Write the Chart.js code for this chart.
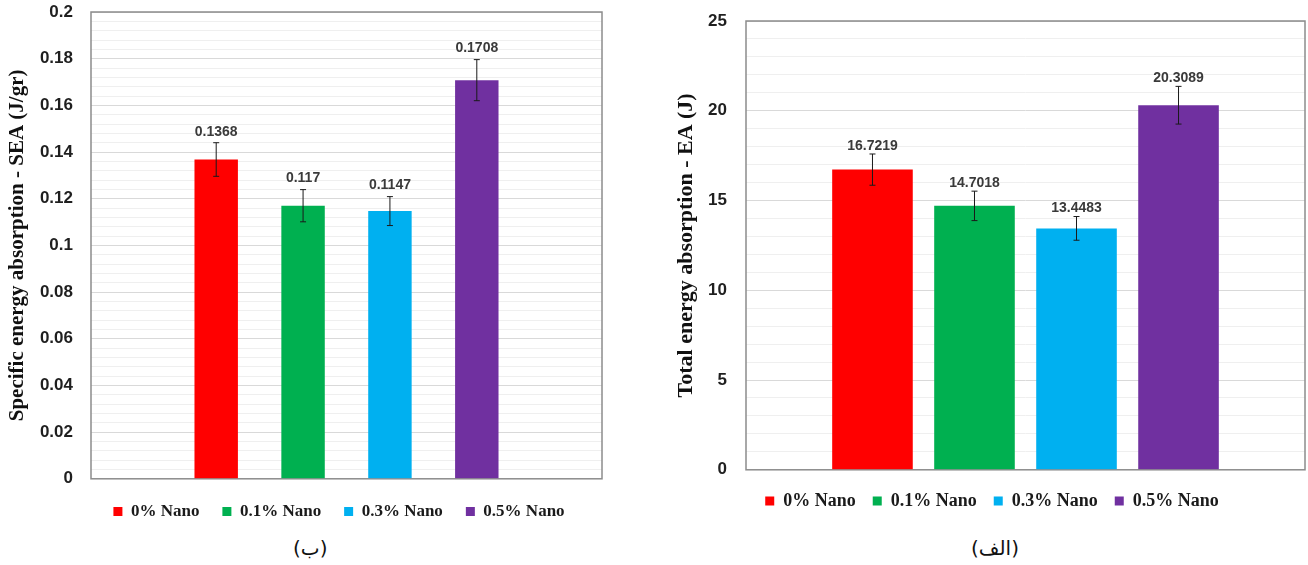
<!DOCTYPE html>
<html>
<head>
<meta charset="utf-8">
<script src="https://cdn.jsdelivr.net/npm/chart.js@4.4.1/dist/chart.umd.min.js"></script>
<style>
  html, body { margin: 0; padding: 0; background: #ffffff; overflow: hidden; width: 1308px; height: 565px; }
  .box { position: absolute; top: 0; }
  #leftBox { left: 0; width: 678px; height: 530px; }
  #rightBox { left: 660px; width: 664px; height: 520px; }
  .cap { position: absolute; top: 536px; font-family: "DejaVu Sans", "Noto Sans", sans-serif; font-size: 20px; color: #111; }
</style>
</head>
<body>
<div class="box" id="leftBox"><canvas id="leftChart"></canvas></div>
<div class="box" id="rightBox"><canvas id="rightChart"></canvas></div>
<div class="cap" id="capLeft" style="left:293px;">(ب)</div>
<div class="cap" id="capRight" style="left:971px;">(الف)</div>
<script>
// ---------- data ----------
const categories = [''];
const seriesNames = ['0% Nano', '0.1% Nano', '0.3% Nano', '0.5% Nano'];
const seriesColors = ['#ff0000', '#00b050', '#00b0f0', '#7030a0'];

const seaValues = [0.1368, 0.117, 0.1147, 0.1708];
const seaErrors = [0.0072, 0.0069, 0.0062, 0.0088];
const seaLabels = ['0.1368', '0.117', '0.1147', '0.1708'];
const seaTickMajor = 0.02;
const seaTickMinor = 0.004;
const seaMax = 0.2;

const eaValues = [16.7219, 14.7018, 13.4483, 20.3089];
const eaErrors = [0.87, 0.82, 0.66, 1.05];
const eaLabels = ['16.7219', '14.7018', '13.4483', '20.3089'];
const eaTickMajor = 5;
const eaTickMinor = 1;
const eaMax = 25;

// ---------- helpers ----------
function isMajor(v, major) {
  const r = v / major;
  return Math.abs(r - Math.round(r)) < 1e-6;
}

const frameAndErrors = {
  id: 'frameAndErrors',
  beforeDatasetsDraw(chart, args, opts) {
    const a = chart.chartArea;
    const ctx = chart.ctx;
    ctx.save();
    ctx.strokeStyle = '#8c8c8c';
    ctx.lineWidth = 1.5;
    ctx.strokeRect(a.left, a.top, a.right - a.left, a.bottom - a.top);
    ctx.restore();
  },
  afterDatasetsDraw(chart, args, opts) {
    const ctx = chart.ctx;
    const yScale = chart.scales.y;
    ctx.save();
    chart.data.datasets.forEach((ds, i) => {
      const meta = chart.getDatasetMeta(i);
      const bar = meta.data[0];
      if (!bar) return;
      const v = ds.data[0];
      const e = opts.errors[i];
      const x = bar.x;
      const yt = yScale.getPixelForValue(v + e);
      const yb = yScale.getPixelForValue(v - e);
      ctx.strokeStyle = '#1a1a1a';
      ctx.lineWidth = 1;
      ctx.beginPath();
      ctx.moveTo(x, yt); ctx.lineTo(x, yb);
      ctx.moveTo(x - 3, yt); ctx.lineTo(x + 3, yt);
      ctx.moveTo(x - 3, yb); ctx.lineTo(x + 3, yb);
      ctx.stroke();
      ctx.fillStyle = '#3a3a3a';
      ctx.font = 'bold ' + opts.labelSize + 'px "Liberation Sans", Arial, sans-serif';
      ctx.textAlign = 'center';
      ctx.textBaseline = 'middle';
      ctx.fillText(opts.labels[i], x, yt - opts.labelOffset);
    });
    ctx.restore();
  }
};

function makeDatasets(values, barPct, catPct) {
  return seriesNames.map((name, i) => ({
    label: name,
    data: [values[i]],
    backgroundColor: seriesColors[i],
    borderWidth: 0,
    barPercentage: barPct,
    categoryPercentage: catPct
  }));
}

function makeChart(id, cfg) {
  return new Chart(document.getElementById(id), {
    type: 'bar',
    data: { labels: categories, datasets: makeDatasets(cfg.values, cfg.barPct, cfg.catPct) },
    plugins: [frameAndErrors],
    options: {
      responsive: true,
      maintainAspectRatio: false,
      animation: false,
      events: [],
      layout: { padding: { top: cfg.padTop, left: 0, right: 0, bottom: 0 } },
      plugins: {
        tooltip: { enabled: false },
        frameAndErrors: { errors: cfg.errors, labels: cfg.labels, labelSize: 14, labelOffset: cfg.labelOffset },
        legend: {
          position: 'bottom',
          title: { display: true, text: '', font: { size: 1 }, padding: { top: cfg.legendShift, bottom: 0 } },
          labels: {
            boxWidth: 9,
            boxHeight: 9,
            padding: cfg.legendPad,
            color: '#1a1a1a',
            font: { family: '"Liberation Serif", "Times New Roman", serif', weight: 'bold', size: cfg.legendSize }
          }
        }
      },
      scales: {
        x: { display: false },
        y: {
          min: 0,
          max: cfg.max,
          border: { display: false },
          grid: {
            drawTicks: true,
            tickLength: cfg.tickPad,
            tickColor: 'rgba(0,0,0,0)',
            color: (c) => isMajor(c.tick.value, cfg.major) ? '#d9d9d9' : '#efefef',
            lineWidth: 1
          },
          ticks: {
            stepSize: cfg.minor,
            maxTicksLimit: 1000,
            autoSkip: false,
            padding: 0,
            color: '#1f1f1f',
            font: { family: '"Liberation Sans", Arial, sans-serif', weight: 'bold', size: 17 },
            callback: (v) => isMajor(v, cfg.major) ? String(Number(v.toFixed(4))) : ''
          },
          title: {
            display: true,
            text: cfg.title,
            color: '#111111',
            padding: { top: cfg.titlePad, bottom: 0 },
            font: { family: '"Liberation Serif", "Times New Roman", serif', weight: 'bold', size: cfg.titleSize }
          },
          afterFit: (s) => { s.width = cfg.axisWidth; }
        },
        yr: {
          position: 'right',
          display: true,
          grid: { display: false, drawTicks: false },
          border: { display: false },
          ticks: { display: false },
          afterFit: (s) => { s.width = cfg.rightWidth; }
        }
      }
    }
  });
}

makeChart('leftChart', {
  values: seaValues, errors: seaErrors, labels: seaLabels,
  max: seaMax, major: seaTickMajor, minor: seaTickMinor,
  barPct: 0.5, catPct: 0.68,
  padTop: 12, axisWidth: 91, rightWidth: 76, tickPad: 18,
  title: 'Specific energy absorption - SEA (J/gr)', titleSize: 21, titlePad: 5,
  legendPad: 23, legendSize: 17, legendShift: 0, labelOffset: 11
});

makeChart('rightChart', {
  values: eaValues, errors: eaErrors, labels: eaLabels,
  max: eaMax, major: eaTickMajor, minor: eaTickMinor,
  barPct: 0.79, catPct: 0.73,
  padTop: 21, axisWidth: 86, rightWidth: 19, tickPad: 19,
  title: 'Total energy absorption - EA (J)', titleSize: 22, titlePad: 13,
  legendPad: 17, legendSize: 18, legendShift: 4, labelOffset: 8
});
</script>
</body>
</html>
